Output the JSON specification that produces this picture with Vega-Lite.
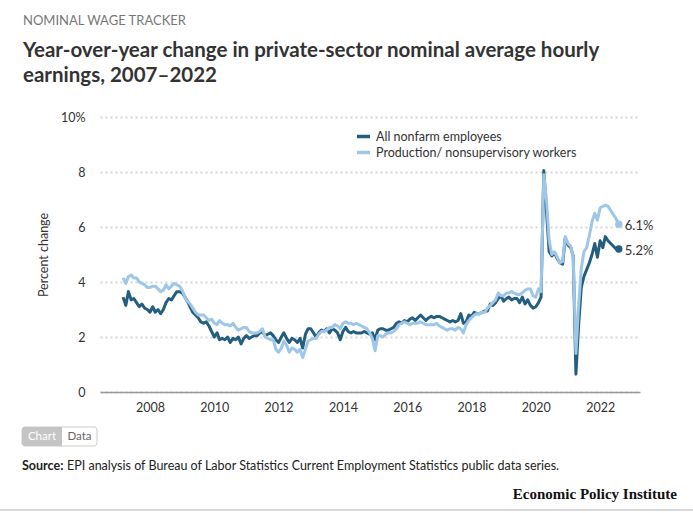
{
  "$schema": "https://vega.github.io/schema/vega-lite/v6.json",
  "width": 540,
  "height": 275,
  "autosize": {"type": "none"},
  "padding": {"left": 100, "top": 117, "right": 53, "bottom": 121},
  "background": "white",
  "config": {"font": "Lato", "view": {"stroke": null}},
  "title": {
    "text": "NOMINAL WAGE TRACKER",
    "subtitle": ["Year-over-year change in private-sector nominal average hourly", "earnings, 2007–2022"],
    "anchor": "start",
    "frame": "group",
    "dx": -77,
    "offset": 25,
    "fontSize": 13,
    "fontWeight": "normal",
    "color": "#777777",
    "subtitleFont": "Lato",
    "subtitleFontSize": 20.5,
    "subtitleFontWeight": "bold",
    "subtitleColor": "#333333",
    "subtitleLineHeight": 25,
    "subtitlePadding": 13
  },
  "layer": [
    {
      "data": {"values": [
        {"d":"2007-03","a":3.45,"p":4.15},{"d":"2007-04","a":3.15,"p":3.95},{"d":"2007-05","a":3.65,"p":4.2},{"d":"2007-06","a":3.35,"p":4.25},{"d":"2007-07","a":3.4,"p":4.15},{"d":"2007-08","a":3.25,"p":4.15},{"d":"2007-09","a":3.1,"p":4.0},{"d":"2007-10","a":3.2,"p":3.95},{"d":"2007-11","a":3.05,"p":3.9},{"d":"2007-12","a":3.0,"p":3.8},
        {"d":"2008-01","a":2.9,"p":3.8},{"d":"2008-02","a":3.1,"p":3.85},{"d":"2008-03","a":2.9,"p":3.85},{"d":"2008-04","a":3.0,"p":3.75},{"d":"2008-05","a":2.85,"p":3.65},{"d":"2008-06","a":3.0,"p":3.7},{"d":"2008-07","a":3.25,"p":3.9},{"d":"2008-08","a":3.4,"p":3.75},{"d":"2008-09","a":3.35,"p":3.85},{"d":"2008-10","a":3.5,"p":3.95},{"d":"2008-11","a":3.65,"p":3.9},{"d":"2008-12","a":3.65,"p":3.85},
        {"d":"2009-01","a":3.6,"p":3.7},{"d":"2009-02","a":3.45,"p":3.45},{"d":"2009-03","a":3.3,"p":3.3},{"d":"2009-04","a":3.1,"p":3.2},{"d":"2009-05","a":2.9,"p":3.05},{"d":"2009-06","a":2.8,"p":2.9},{"d":"2009-07","a":2.7,"p":2.8},{"d":"2009-08","a":2.55,"p":2.8},{"d":"2009-09","a":2.5,"p":2.8},{"d":"2009-10","a":2.55,"p":2.7},{"d":"2009-11","a":2.4,"p":2.6},{"d":"2009-12","a":2.2,"p":2.65},
        {"d":"2010-01","a":2.0,"p":2.5},{"d":"2010-02","a":2.15,"p":2.45},{"d":"2010-03","a":1.9,"p":2.6},{"d":"2010-04","a":1.95,"p":2.5},{"d":"2010-05","a":1.9,"p":2.45},{"d":"2010-06","a":2.0,"p":2.45},{"d":"2010-07","a":1.8,"p":2.4},{"d":"2010-08","a":1.95,"p":2.5},{"d":"2010-09","a":1.9,"p":2.35},{"d":"2010-10","a":2.0,"p":2.25},{"d":"2010-11","a":1.75,"p":2.3},{"d":"2010-12","a":1.95,"p":2.35},
        {"d":"2011-01","a":2.05,"p":2.35},{"d":"2011-02","a":1.95,"p":2.2},{"d":"2011-03","a":2.0,"p":2.15},{"d":"2011-04","a":2.05,"p":2.15},{"d":"2011-05","a":2.05,"p":2.15},{"d":"2011-06","a":2.15,"p":2.2},{"d":"2011-07","a":2.2,"p":2.3},{"d":"2011-08","a":2.05,"p":2.0},{"d":"2011-09","a":2.1,"p":1.95},{"d":"2011-10","a":2.15,"p":1.9},{"d":"2011-11","a":2.05,"p":1.9},{"d":"2011-12","a":1.9,"p":1.55},
        {"d":"2012-01","a":1.8,"p":1.45},{"d":"2012-02","a":2.0,"p":1.6},{"d":"2012-03","a":2.15,"p":1.85},{"d":"2012-04","a":1.95,"p":1.7},{"d":"2012-05","a":1.8,"p":1.45},{"d":"2012-06","a":1.95,"p":1.6},{"d":"2012-07","a":1.9,"p":1.55},{"d":"2012-08","a":1.8,"p":1.45},{"d":"2012-09","a":1.95,"p":1.55},{"d":"2012-10","a":1.6,"p":1.25},{"d":"2012-11","a":2.1,"p":1.55},{"d":"2012-12","a":2.3,"p":1.85},
        {"d":"2013-01","a":2.3,"p":1.9},{"d":"2013-02","a":2.15,"p":1.95},{"d":"2013-03","a":2.0,"p":1.95},{"d":"2013-04","a":2.15,"p":2.1},{"d":"2013-05","a":2.25,"p":2.2},{"d":"2013-06","a":2.2,"p":2.2},{"d":"2013-07","a":2.3,"p":2.25},{"d":"2013-08","a":2.15,"p":2.35},{"d":"2013-09","a":2.3,"p":2.35},{"d":"2013-10","a":2.25,"p":2.45},{"d":"2013-11","a":2.15,"p":2.4},{"d":"2013-12","a":1.9,"p":2.3},
        {"d":"2014-01","a":2.2,"p":2.5},{"d":"2014-02","a":2.35,"p":2.55},{"d":"2014-03","a":2.2,"p":2.5},{"d":"2014-04","a":2.15,"p":2.5},{"d":"2014-05","a":2.2,"p":2.45},{"d":"2014-06","a":2.15,"p":2.5},{"d":"2014-07","a":2.15,"p":2.45},{"d":"2014-08","a":2.15,"p":2.4},{"d":"2014-09","a":2.2,"p":2.35},{"d":"2014-10","a":2.15,"p":2.3},{"d":"2014-11","a":2.1,"p":2.15},{"d":"2014-12","a":2.15,"p":1.95},
        {"d":"2015-01","a":1.9,"p":1.5},{"d":"2015-02","a":2.25,"p":2.05},{"d":"2015-03","a":2.3,"p":2.05},{"d":"2015-04","a":2.3,"p":2.0},{"d":"2015-05","a":2.25,"p":2.1},{"d":"2015-06","a":2.25,"p":2.15},{"d":"2015-07","a":2.3,"p":2.15},{"d":"2015-08","a":2.35,"p":2.2},{"d":"2015-09","a":2.5,"p":2.3},{"d":"2015-10","a":2.55,"p":2.45},{"d":"2015-11","a":2.5,"p":2.5},{"d":"2015-12","a":2.6,"p":2.55},
        {"d":"2016-01","a":2.55,"p":2.5},{"d":"2016-02","a":2.65,"p":2.45},{"d":"2016-03","a":2.7,"p":2.5},{"d":"2016-04","a":2.6,"p":2.5},{"d":"2016-05","a":2.7,"p":2.5},{"d":"2016-06","a":2.8,"p":2.55},{"d":"2016-07","a":2.7,"p":2.5},{"d":"2016-08","a":2.6,"p":2.45},{"d":"2016-09","a":2.7,"p":2.45},{"d":"2016-10","a":2.75,"p":2.45},{"d":"2016-11","a":2.7,"p":2.45},{"d":"2016-12","a":2.75,"p":2.5},
        {"d":"2017-01","a":2.75,"p":2.4},{"d":"2017-02","a":2.7,"p":2.35},{"d":"2017-03","a":2.65,"p":2.3},{"d":"2017-04","a":2.6,"p":2.25},{"d":"2017-05","a":2.55,"p":2.3},{"d":"2017-06","a":2.6,"p":2.3},{"d":"2017-07","a":2.55,"p":2.25},{"d":"2017-08","a":2.6,"p":2.35},{"d":"2017-09","a":2.85,"p":2.3},{"d":"2017-10","a":2.5,"p":2.15},{"d":"2017-11","a":2.55,"p":2.45},{"d":"2017-12","a":2.8,"p":2.6},
        {"d":"2018-01","a":2.75,"p":2.7},{"d":"2018-02","a":2.9,"p":2.8},{"d":"2018-03","a":2.85,"p":2.85},{"d":"2018-04","a":2.85,"p":2.85},{"d":"2018-05","a":2.9,"p":2.9},{"d":"2018-06","a":2.95,"p":2.9},{"d":"2018-07","a":2.95,"p":3.05},{"d":"2018-08","a":3.2,"p":3.15},{"d":"2018-09","a":3.15,"p":3.25},{"d":"2018-10","a":3.25,"p":3.35},{"d":"2018-11","a":3.4,"p":3.6},{"d":"2018-12","a":3.5,"p":3.5},
        {"d":"2019-01","a":3.3,"p":3.5},{"d":"2019-02","a":3.4,"p":3.6},{"d":"2019-03","a":3.45,"p":3.6},{"d":"2019-04","a":3.35,"p":3.65},{"d":"2019-05","a":3.4,"p":3.6},{"d":"2019-06","a":3.4,"p":3.55},{"d":"2019-07","a":3.25,"p":3.55},{"d":"2019-08","a":3.45,"p":3.6},{"d":"2019-09","a":3.2,"p":3.7},{"d":"2019-10","a":3.35,"p":3.75},{"d":"2019-11","a":3.15,"p":3.75},{"d":"2019-12","a":3.05,"p":3.5},
        {"d":"2020-01","a":3.1,"p":3.45},{"d":"2020-02","a":3.25,"p":3.75},{"d":"2020-03","a":3.45,"p":3.65},{"d":"2020-04","a":8.05,"p":7.9},{"d":"2020-05","a":6.6,"p":7.0},{"d":"2020-06","a":5.1,"p":5.5},{"d":"2020-07","a":4.95,"p":5.0},{"d":"2020-08","a":5.05,"p":5.1},{"d":"2020-09","a":4.85,"p":4.9},{"d":"2020-10","a":4.7,"p":4.7},{"d":"2020-11","a":4.65,"p":4.75},{"d":"2020-12","a":5.6,"p":5.65},
        {"d":"2021-01","a":5.35,"p":5.4},{"d":"2021-02","a":5.25,"p":5.3},{"d":"2021-03","a":4.95,"p":4.9},{"d":"2021-04","a":0.65,"p":1.4},{"d":"2021-05","a":2.4,"p":3.1},{"d":"2021-06","a":3.8,"p":4.5},{"d":"2021-07","a":4.2,"p":5.1},{"d":"2021-08","a":4.45,"p":5.25},{"d":"2021-09","a":4.7,"p":5.7},{"d":"2021-10","a":5.0,"p":6.2},{"d":"2021-11","a":5.4,"p":6.5},{"d":"2021-12","a":4.9,"p":6.25},
        {"d":"2022-01","a":5.5,"p":6.7},{"d":"2022-02","a":5.25,"p":6.75},{"d":"2022-03","a":5.65,"p":6.8},{"d":"2022-04","a":5.5,"p":6.75},{"d":"2022-05","a":5.4,"p":6.6},{"d":"2022-06","a":5.3,"p":6.45},{"d":"2022-07","a":5.2,"p":6.3},{"d":"2022-08","a":5.2,"p":6.1}
      ]},
      "transform": [{"fold": ["a", "p"], "as": ["s", "value"]}],
      "encoding": {
        "x": {
          "field": "d", "type": "temporal",
          "scale": {"type": "utc", "domain": [{"year": 2006, "month": 6, "date": 12, "utc": true}, {"year": 2023, "month": 3, "date": 30, "utc": true}]},
          "axis": {
            "title": null,
            "values": [
              {"year": 2008, "month": 1, "date": 1, "utc": true},
              {"year": 2010, "month": 1, "date": 1, "utc": true},
              {"year": 2012, "month": 1, "date": 1, "utc": true},
              {"year": 2014, "month": 1, "date": 1, "utc": true},
              {"year": 2016, "month": 1, "date": 1, "utc": true},
              {"year": 2018, "month": 1, "date": 1, "utc": true},
              {"year": 2020, "month": 1, "date": 1, "utc": true},
              {"year": 2022, "month": 1, "date": 1, "utc": true}
            ],
            "format": "%Y",
            "grid": false,
            "ticks": false,
            "domain": true,
            "domainColor": "#999999",
            "domainWidth": 1.5,
            "labelPadding": 9,
            "labelFontSize": 12.5,
            "labelColor": "#333333",
            "labelFont": "Lato"
          }
        },
        "y": {
          "field": "value", "type": "quantitative",
          "scale": {"domain": [0, 10], "nice": false},
          "axis": {
            "title": "Percent change",
            "values": [0, 2, 4, 6, 8, 10],
            "labelExpr": "datum.value == 10 ? '10%' : datum.label",
            "grid": true,
            "gridDash": [2, 3],
            "gridColor": "#d6d6d6",
            "gridWidth": 2,
            "domain": false,
            "ticks": false,
            "labelPadding": 15,
            "labelFontSize": 12.5,
            "labelColor": "#333333",
            "labelFont": "Lato",
            "titleFont": "Lato",
            "titleFontSize": 12.5,
            "titleFontWeight": "normal",
            "titleColor": "#333333",
            "titlePadding": 10
          }
        },
        "color": {
          "field": "s", "type": "nominal",
          "scale": {"domain": ["a", "p"], "range": ["#245e7e", "#9dc6e9"]},
          "legend": {
            "orient": "none",
            "legendX": 255,
            "legendY": 11,
            "title": null,
            "symbolType": "stroke",
            "symbolStrokeWidth": 3.5,
            "symbolSize": 170,
            "labelFontSize": 12.5,
            "labelFont": "Lato",
            "labelColor": "#333333",
            "labelOffset": 4,
            "labelLimit": 400,
            "rowPadding": -2,
            "labelExpr": "datum.value == 'a' ? 'All nonfarm employees' : 'Production/ nonsupervisory workers'"
          }
        }
      },
      "layer": [
        {"transform": [{"filter": "datum.s == 'a'"}], "mark": {"type": "line", "strokeWidth": 3, "strokeJoin": "round"}},
        {"transform": [{"filter": "datum.s == 'p'"}], "mark": {"type": "line", "strokeWidth": 3, "strokeJoin": "round"}},
        {"transform": [{"filter": "utcyear(datum.d) == 2022 && utcmonth(datum.d) == 7"}], "mark": {"type": "point", "filled": true, "size": 55, "opacity": 1}},
        {
          "transform": [
            {"filter": "utcyear(datum.d) == 2022 && utcmonth(datum.d) == 7"},
            {"calculate": "format(datum.value, '.1f') + '%'", "as": "lab"}
          ],
          "mark": {"type": "text", "align": "left", "baseline": "middle", "dx": 6, "dy": 2, "fontSize": 13, "font": "Lato", "color": "#333333"},
          "encoding": {"text": {"field": "lab"}, "color": {"value": "#333333"}}
        }
      ]
    },
    {
      "data": {"values": [{}]},
      "layer": [
        {"mark": {"type": "rect", "cornerRadius": 3, "fill": "#ffffff", "stroke": "#cccccc", "strokeWidth": 1},
         "encoding": {"x": {"value": -78}, "x2": {"value": -3}, "y": {"value": 310}, "y2": {"value": 329}}},
        {"mark": {"type": "rect", "cornerRadiusTopLeft": 3, "cornerRadiusBottomLeft": 3, "fill": "#c4c4c4"},
         "encoding": {"x": {"value": -78}, "x2": {"value": -38}, "y": {"value": 310}, "y2": {"value": 329}}},
        {"mark": {"type": "text", "text": "Chart", "align": "center", "baseline": "middle", "fontSize": 11.5, "font": "Lato", "color": "#ffffff"},
         "encoding": {"x": {"value": -58}, "y": {"value": 320}}},
        {"mark": {"type": "text", "text": "Data", "align": "center", "baseline": "middle", "fontSize": 11.5, "font": "Lato", "color": "#666666"},
         "encoding": {"x": {"value": -20.5}, "y": {"value": 320}}},
        {"mark": {"type": "text", "text": "Source:", "align": "left", "baseline": "middle", "fontSize": 12.5, "font": "Lato", "fontWeight": "bold", "color": "#222222"},
         "encoding": {"x": {"value": -78}, "y": {"value": 349}}},
        {"mark": {"type": "text", "text": "EPI analysis of Bureau of Labor Statistics Current Employment Statistics public data series.", "align": "left", "baseline": "middle", "fontSize": 12.5, "font": "Lato", "color": "#222222"},
         "encoding": {"x": {"value": -33}, "y": {"value": 349}}},
        {"mark": {"type": "text", "text": "Economic Policy Institute", "align": "right", "baseline": "middle", "fontSize": 15, "font": "Liberation Serif", "fontWeight": "bold", "color": "#111111"},
         "encoding": {"x": {"value": 577}, "y": {"value": 377}}},
        {"mark": {"type": "rule", "color": "#cccccc", "strokeWidth": 1.5},
         "encoding": {"x": {"value": -100}, "x2": {"value": 593}, "y": {"value": 393}}}
      ]
    }
  ]
}
